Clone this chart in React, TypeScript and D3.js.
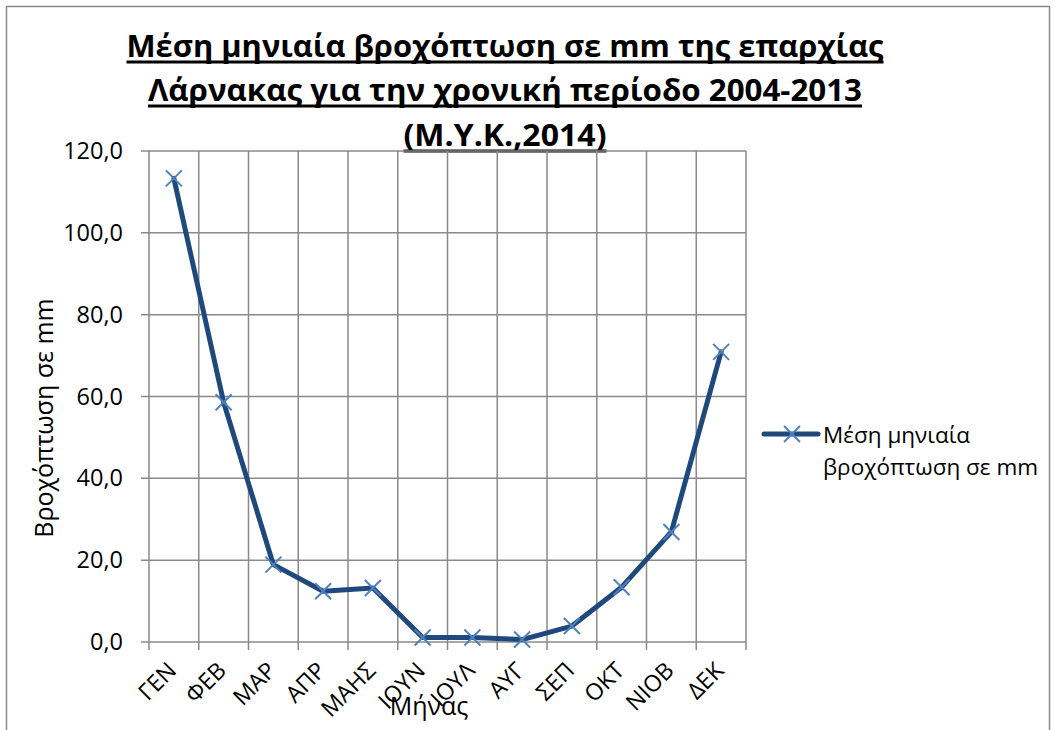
import React from "react";
import * as d3 from "d3";

const months = ["ΓΕΝ", "ΦΕΒ", "ΜΑΡ", "ΑΠΡ", "ΜΑΗΣ", "ΙΟΥΝ", "ΙΟΥΛ", "ΑΥΓ", "ΣΕΠ", "ΟΚΤ", "ΝΙΟΒ", "ΔΕΚ"];
const rainfall = [113.3, 58.6, 18.9, 12.4, 13.2, 1.1, 1.1, 0.6, 3.9, 13.4, 26.9, 70.9];
const yTicks = [0, 20, 40, 60, 80, 100, 120];
const titleLines = [
  "Μέση μηνιαία βροχόπτωση σε mm της επαρχίας",
  "Λάρνακας για την χρονική περίοδο 2004-2013",
  "(Μ.Υ.Κ.,2014)",
];
const seriesName = ["Μέση μηνιαία", "βροχόπτωση σε mm"];
const xTitle = "Μήνας";
const yTitle = "Βροχόπτωση σε mm";

const W = 1062;
const H = 730;
const left = 149, right = 746, top = 151, bottom = 642;
const FONT = "'Open Sans', 'Noto Sans', sans-serif";

export default function App() {
  const x = d3.scaleBand<string>().domain(months).range([left, right]);
  const y = d3.scaleLinear().domain([0, 120]).range([bottom, top]);
  const line = d3
    .line<number>()
    .x((_, i) => (x(months[i]) as number) + x.bandwidth() / 2)
    .y((d) => y(d));
  const grid = "#8a8a8a";
  const lineColor = "#1F497D";
  const markColor = "#4F81BD";
  const m = 8;
  const titleWidths = [757, 714, 203];
  const titleY = [57, 101, 146];
  const c = Math.SQRT1_2;
  const L = 140;
  return (
    <svg
      width={W}
      height={H}
      style={{ position: "absolute", left: 0, top: 0, background: "#fff" }}
      fontFamily={FONT}
    >
      <defs>
        {months.map((mo, i) => {
          const ex = (x(mo) as number) + x.bandwidth() / 2 + 4;
          const ey = bottom + 30;
          return (
            <path
              key={"p" + i}
              id={`xlab-path-${i}`}
              d={`M${ex - L * c},${ey + L * c}L${ex},${ey}`}
            />
          );
        })}
      </defs>
      <rect x={0} y={0} width={W} height={H} fill="#fff" />
      <rect x={6.5} y={6.5} width={1043} height={740} fill="none" stroke="#8a8a8a" strokeWidth={1.5} />
      {/* title */}
      {titleLines.map((t, i) => (
        <g key={i}>
          <text
            x={505}
            y={titleY[i]}
            textAnchor="middle"
            fontSize={31}
            fontWeight="bold"
            textLength={titleWidths[i]}
            lengthAdjust="spacingAndGlyphs"
            fill="#000"
          >
            {t}
          </text>
          <line
            x1={505 - titleWidths[i] / 2}
            x2={505 + titleWidths[i] / 2}
            y1={titleY[i] + 5}
            y2={titleY[i] + 5}
            stroke="#000"
            strokeWidth={3}
          />
        </g>
      ))}
      {/* horizontal grid */}
      {yTicks.map((t) => (
        <g key={"h" + t}>
          <line x1={left - 8} x2={right} y1={y(t)} y2={y(t)} stroke={grid} strokeWidth={1.5} />
          <text x={123} y={y(t) + 8} textAnchor="end" fontSize={23.5} fill="#000">
            {t.toFixed(1).replace(".", ",")}
          </text>
        </g>
      ))}
      {/* vertical grid */}
      {months.map((mo) => (
        <line
          key={"v" + mo}
          x1={x(mo) as number}
          x2={x(mo) as number}
          y1={top}
          y2={bottom + 8}
          stroke={grid}
          strokeWidth={1.5}
        />
      ))}
      <line x1={right} x2={right} y1={top} y2={bottom + 8} stroke={grid} strokeWidth={1.5} />
      {/* x labels */}
      {months.map((mo, i) => (
        <text key={"xl" + mo} fontSize={23} fill="#000" textAnchor="end">
          <textPath href={`#xlab-path-${i}`} startOffset="100%">
            {mo}
          </textPath>
        </text>
      ))}
      {/* line */}
      <path
        d={line(rainfall) || ""}
        fill="none"
        stroke={lineColor}
        strokeWidth={5}
        strokeLinejoin="round"
        strokeLinecap="round"
      />
      {rainfall.map((v, i) => {
        const cx = (x(months[i]) as number) + x.bandwidth() / 2;
        const cy = y(v);
        return (
          <g key={"mk" + i} stroke={markColor} strokeWidth={2}>
            <line x1={cx - m} y1={cy - m} x2={cx + m} y2={cy + m} />
            <line x1={cx - m} y1={cy + m} x2={cx + m} y2={cy - m} />
          </g>
        );
      })}
      {/* axis titles */}
      <text x={429} y={715} textAnchor="middle" fontSize={25} fill="#000">
        {xTitle}
      </text>
      <g transform="translate(53 418) rotate(-90)">
        <text x={0} y={0} textAnchor="middle" fontSize={25} fill="#000">
          {yTitle}
        </text>
      </g>
      {/* legend */}
      <line x1={764} x2={818} y1={434} y2={434} stroke={lineColor} strokeWidth={5} strokeLinecap="round" />
      <g stroke={markColor} strokeWidth={2}>
        <line x1={792 - m} y1={434 - m} x2={792 + m} y2={434 + m} />
        <line x1={792 - m} y1={434 + m} x2={792 + m} y2={434 - m} />
      </g>
      <text x={823} y={443} fontSize={22.5} fill="#000">
        {seriesName[0]}
      </text>
      <text x={823} y={475} fontSize={22.5} fill="#000">
        {seriesName[1]}
      </text>
    </svg>
  );
}
